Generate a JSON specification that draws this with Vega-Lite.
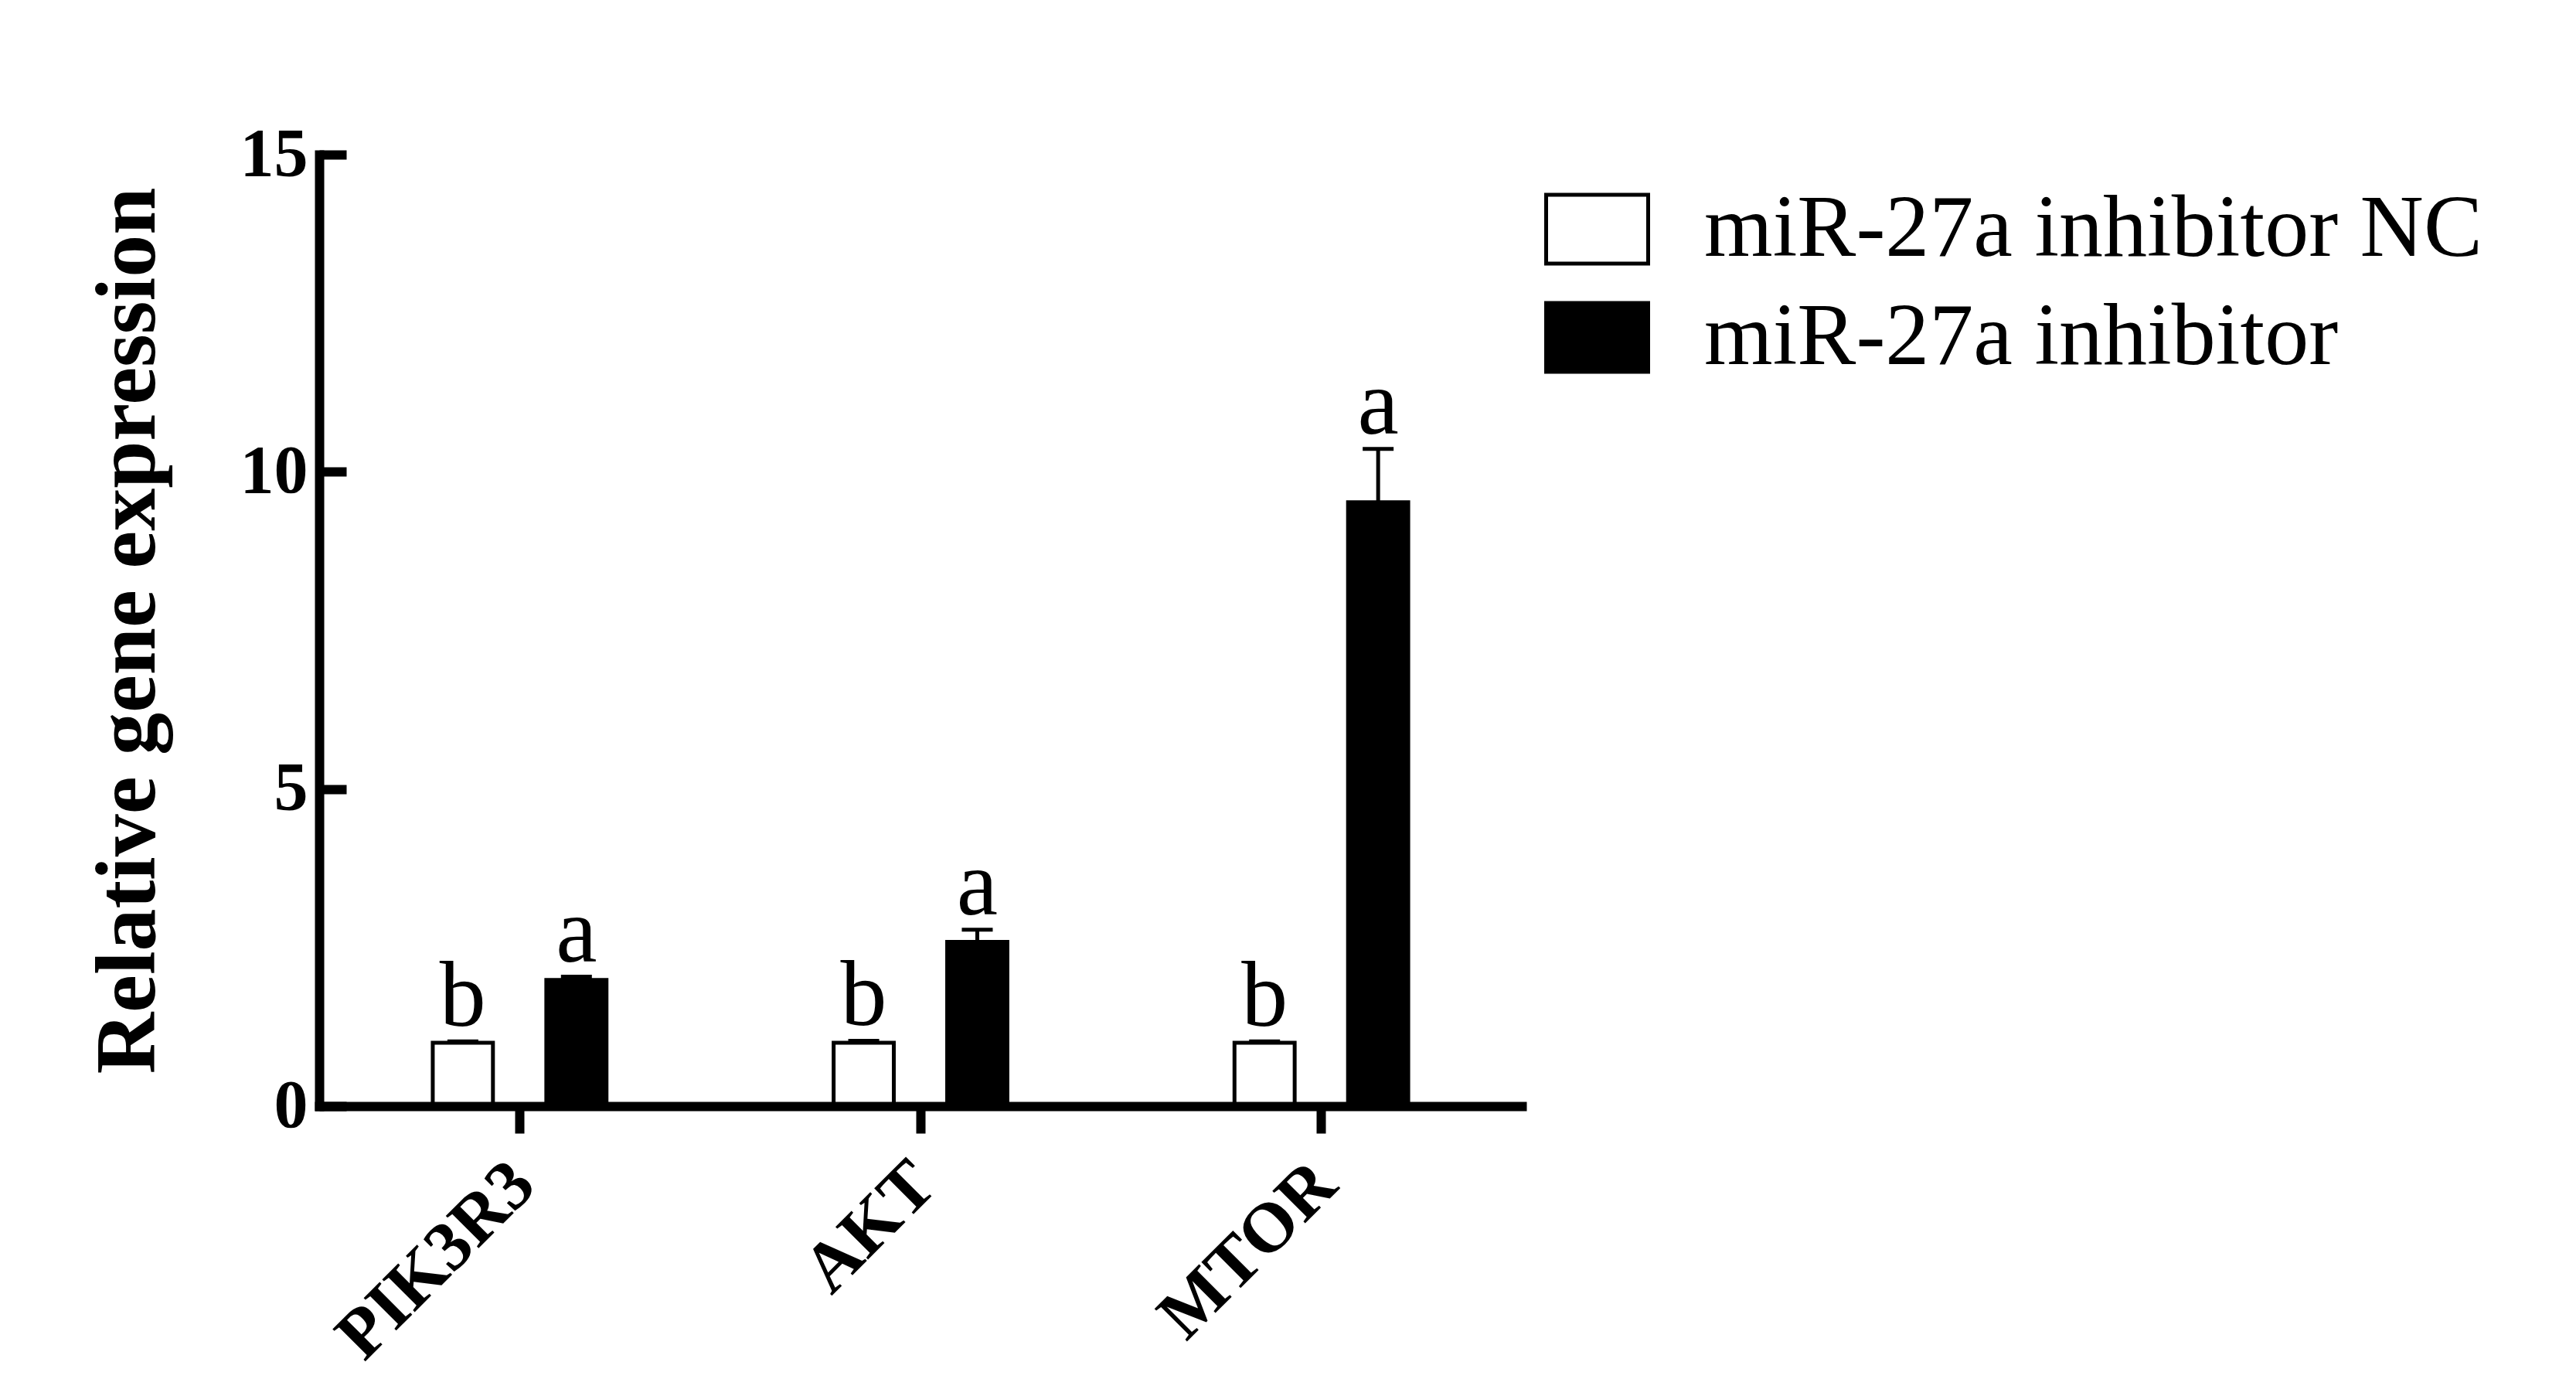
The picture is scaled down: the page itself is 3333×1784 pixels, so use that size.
{
  "$schema": "https://vega.github.io/schema/vega-lite/v6.json",
  "width": 1556,
  "height": 1231,
  "autosize": {"type": "none"},
  "padding": {"left": 413, "top": 200, "right": 1364, "bottom": 353},
  "background": "white",
  "config": {"view": {"stroke": null}, "font": "Liberation Serif"},
  "data": {
    "values": [
      {"gene": "PIK3R3", "group": "miR-27a inhibitor NC", "value": 1.0, "err": 0.02, "hi": 1.02, "label": "b"},
      {"gene": "PIK3R3", "group": "miR-27a inhibitor", "value": 1.99, "err": 0.05, "hi": 2.04, "label": "a"},
      {"gene": "AKT", "group": "miR-27a inhibitor NC", "value": 1.0, "err": 0.03, "hi": 1.03, "label": "b"},
      {"gene": "AKT", "group": "miR-27a inhibitor", "value": 2.59, "err": 0.19, "hi": 2.78, "label": "a"},
      {"gene": "MTOR", "group": "miR-27a inhibitor NC", "value": 1.0, "err": 0.02, "hi": 1.02, "label": "b"},
      {"gene": "MTOR", "group": "miR-27a inhibitor", "value": 9.52, "err": 0.84, "hi": 10.36, "label": "a"}
    ]
  },
  "encoding": {
    "x": {
      "field": "gene",
      "type": "nominal",
      "sort": ["PIK3R3", "AKT", "MTOR"],
      "scale": {"paddingInner": 0, "paddingOuter": 0},
      "axis": {
        "title": null,
        "zindex": 1,
        "domainColor": "black",
        "domainWidth": 12,
        "domainCap": "square",
        "tickColor": "black",
        "tickWidth": 12,
        "tickSize": 35,
        "labelAngle": -45,
        "labelAlign": "right",
        "labelBaseline": "middle",
        "labelFont": "Liberation Serif",
        "labelFontSize": 91,
        "labelFontWeight": "bold",
        "labelColor": "black",
        "labelPadding": 52,
        "labelOffset": 5,
        "labelLimit": 2000,
        "labelOverlap": false
      }
    },
    "xOffset": {
      "field": "group",
      "type": "nominal",
      "sort": ["miR-27a inhibitor NC", "miR-27a inhibitor"],
      "scale": {"paddingInner": 0.47, "paddingOuter": 1.0}
    }
  },
  "layer": [
    {
      "mark": {"type": "bar", "stroke": "black", "strokeWidth": 5},
      "encoding": {
        "y": {
          "field": "value",
          "type": "quantitative",
          "scale": {"domain": [0, 15], "nice": false, "zero": true},
          "axis": {
            "zindex": 1,
            "values": [0, 5, 10, 15],
            "format": "d",
            "grid": false,
            "domainColor": "black",
            "domainWidth": 12,
            "domainCap": "square",
            "tickColor": "black",
            "tickWidth": 12,
            "tickSize": -35,
            "labelFont": "Liberation Serif",
            "labelFontSize": 88,
            "labelFontWeight": "bold",
            "labelColor": "black",
            "labelPadding": 50,
            "title": "Relative gene expression",
            "titleFont": "Liberation Serif",
            "titleFontSize": 110,
            "titleFontWeight": "bold",
            "titleColor": "black",
            "titlePadding": 88
          }
        },
        "fill": {
          "field": "group",
          "type": "nominal",
          "sort": ["miR-27a inhibitor NC", "miR-27a inhibitor"],
          "scale": {"domain": ["miR-27a inhibitor NC", "miR-27a inhibitor"], "range": ["white", "black"]},
          "legend": {
            "title": null,
            "orient": "none",
            "legendX": 1585,
            "legendY": 28,
            "padding": 0,
            "symbolType": "M-1,-0.674H1V0.674H-1Z",
            "symbolSize": 17424,
            "symbolStrokeColor": "black",
            "symbolStrokeWidth": 5,
            "symbolOpacity": 1,
            "rowPadding": 14,
            "labelOffset": 70,
            "labelFont": "Liberation Serif",
            "labelFontSize": 114,
            "labelColor": "black",
            "labelLimit": 2000
          }
        }
      }
    },
    {
      "mark": {"type": "rule", "strokeWidth": 5, "color": "black"},
      "encoding": {
        "y": {"field": "value", "type": "quantitative"},
        "y2": {"field": "hi"}
      }
    },
    {
      "mark": {"type": "tick", "orient": "horizontal", "size": 40, "thickness": 5, "color": "black", "opacity": 1},
      "encoding": {
        "y": {"field": "hi", "type": "quantitative"}
      }
    },
    {
      "mark": {"type": "text", "baseline": "alphabetic", "align": "center", "dy": -20, "fontSize": 120, "font": "Liberation Serif", "color": "black"},
      "encoding": {
        "y": {"field": "hi", "type": "quantitative"},
        "text": {"field": "label"}
      }
    }
  ]
}
